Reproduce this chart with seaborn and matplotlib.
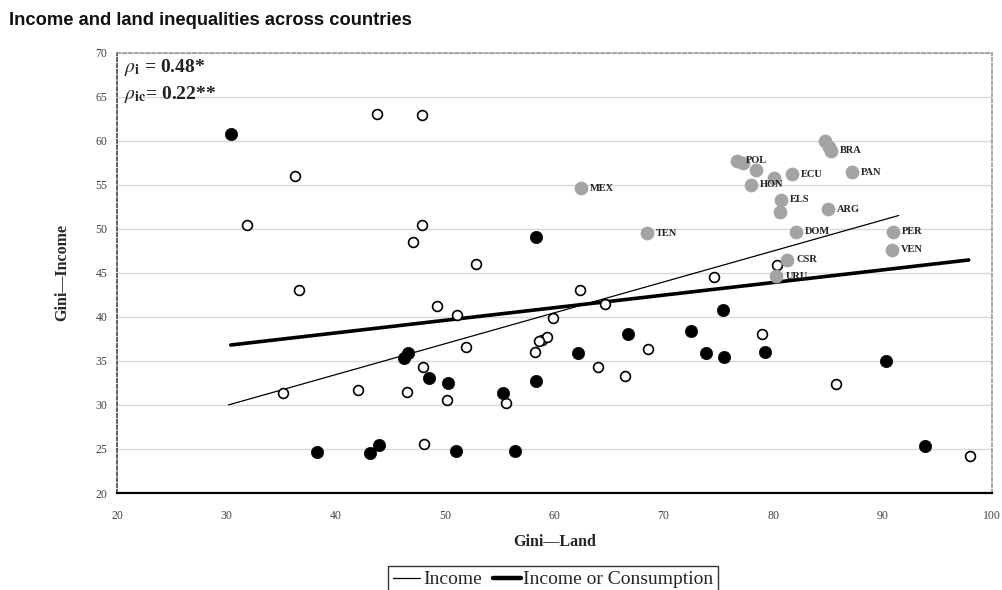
import matplotlib
matplotlib.use("Agg")
import matplotlib.pyplot as plt
import seaborn as sns
import pandas as pd
from matplotlib.lines import Line2D

# ---------------- data ----------------
income_x = [43.8, 47.9, 36.3, 31.9, 47.9, 47.1, 52.8, 36.65, 62.3, 74.6, 80.4,
            49.3, 51.1, 64.6, 59.9, 58.9, 59.3, 58.6, 58.2, 51.9, 68.6, 79.0,
            48.0, 64.0, 66.5, 35.2, 42.0, 46.5, 50.2, 55.6, 85.8, 48.1, 98.0]
income_y = [63.0, 62.9, 56.0, 50.4, 50.4, 48.45, 46.0, 43.0, 43.0, 44.5, 45.9,
            41.2, 40.2, 41.5, 39.9, 37.4, 37.7, 37.2, 36.0, 36.6, 36.3, 38.05,
            34.3, 34.3, 33.3, 31.4, 31.7, 31.5, 30.6, 30.2, 32.4, 25.6, 24.2]

cons_x = [30.4, 58.3, 75.4, 66.7, 72.5, 62.2, 73.9, 75.5, 46.65, 46.26, 48.5,
          50.3, 55.3, 58.3, 79.3, 90.3, 38.3, 43.1, 44.0, 51.0, 56.4, 93.9]
cons_y = [60.8, 49.1, 40.8, 38.0, 38.4, 35.9, 35.9, 35.4, 35.86, 35.29, 33.0,
          32.45, 31.3, 32.7, 36.0, 35.0, 24.7, 24.5, 25.4, 24.8, 24.8, 25.3]

latam_x = [62.4, 76.7, 77.3, 78.4, 84.8, 85.1, 85.3, 81.7, 80.1, 87.2, 78.0,
           80.75, 80.6, 85.0, 68.45, 82.1, 91.0, 90.9, 81.3, 80.3]
latam_y = [54.6, 57.7, 57.5, 56.7, 59.9, 59.3, 58.85, 56.2, 55.8, 56.4, 55.0,
           53.3, 51.9, 52.2, 49.5, 49.65, 49.65, 47.6, 46.45, 44.6]
latam_labels = ["MEX", "POL", "", "", "", "", "BRA", "ECU", "", "PAN", "HON",
                "ELS", "", "ARG", "TEN", "DOM", "PER", "VEN", "CSR", "URU"]

# fitted lines (endpoints)
fit_income_x = [30.2, 91.5]
fit_income_y = [30.0, 51.5]
fit_cons_x = [30.4, 97.9]
fit_cons_y = [36.8, 46.45]

x_ticks = [20, 30, 40, 50, 60, 70, 80, 90, 100]
y_ticks = [20, 25, 30, 35, 40, 45, 50, 55, 60, 65, 70]

title = "Income and land inequalities across countries"
x_label = "Gini\u2014Land"
y_label = "Gini\u2014Income"
legend_labels = ["Income", "Income or Consumption"]
rho_texts = [r"$\rho_{\mathbf{i}}$ = 0.48*", r"$\rho_{\mathbf{ic}}$= 0.22**"]

# ---------------- style ----------------
sns.set_style("white")
plt.rcParams["font.family"] = ["Liberation Serif", "DejaVu Serif"]
plt.rcParams["mathtext.fontset"] = "stix"

fig = plt.figure(figsize=(10.03, 5.9), dpi=100)
ax = fig.add_axes([0.1167, 0.1644, 0.872, 0.7466])

df_inc = pd.DataFrame({"x": income_x, "y": income_y})
df_con = pd.DataFrame({"x": cons_x, "y": cons_y})
df_lat = pd.DataFrame({"x": latam_x, "y": latam_y, "lab": latam_labels})

ax.set_axisbelow(True)
ax.yaxis.grid(True, color="#d9d9d9", linewidth=1.0)
ax.xaxis.grid(False)

sns.lineplot(x=fit_income_x, y=fit_income_y, ax=ax, color="black",
             linewidth=0.9, zorder=2)
sns.lineplot(x=fit_cons_x, y=fit_cons_y, ax=ax, color="black",
             linewidth=2.6, zorder=2)

sns.scatterplot(data=df_inc, x="x", y="y", ax=ax, s=50, facecolor="white",
                edgecolor="black", linewidth=1.2, zorder=3)
sns.scatterplot(data=df_con, x="x", y="y", ax=ax, s=78, color="black",
                edgecolor="black", linewidth=0.5, zorder=3)
sns.scatterplot(data=df_lat, x="x", y="y", ax=ax, s=88, color="#a3a3a3",
                edgecolor="#a3a3a3", linewidth=0.5, zorder=3)

for _, r in df_lat.iterrows():
    if r["lab"]:
        ax.annotate(r["lab"], (r["x"], r["y"]), xytext=(6.5, 0),
                    textcoords="offset points", ha="left", va="center",
                    fontsize=7.5, fontweight="bold", color="#222222")

ax.set_xlim(20, 100)
ax.set_ylim(20, 70)
ax.set_xticks(x_ticks)
ax.set_yticks(y_ticks)
ax.tick_params(axis="both", labelsize=8.5, colors="#444444", length=3,
               width=0.8, direction="out", pad=4)
ax.tick_params(axis="x", pad=9)

for side in ["left", "top", "right"]:
    ax.spines[side].set_linestyle((0, (2, 1.5)))
    ax.spines[side].set_linewidth(1.2)
ax.spines["left"].set_color("#444444")
ax.spines["top"].set_color("#999999")
ax.spines["right"].set_color("#999999")
ax.spines["bottom"].set_color("black")
ax.spines["bottom"].set_linewidth(1.6)

ax.set_xlabel(x_label, fontsize=11.5, fontweight="bold", labelpad=9)
ax.set_ylabel(y_label, fontsize=11.5, fontweight="bold", labelpad=18)

ax.text(0.008, 0.965, rho_texts[0], transform=ax.transAxes, fontsize=14,
        fontweight="bold", color="#222222", va="center", ha="left")
ax.text(0.008, 0.905, rho_texts[1], transform=ax.transAxes, fontsize=14,
        fontweight="bold", color="#222222", va="center", ha="left")

fig.text(0.009, 0.966, title, fontsize=13.2, fontweight="bold",
         family=["Liberation Sans", "DejaVu Sans"], color="#111111",
         va="center", ha="left")

handles = [Line2D([0], [0], color="black", linewidth=0.9),
           Line2D([0], [0], color="black", linewidth=3.2)]
leg = fig.legend(handles, legend_labels, loc="upper center",
                 bbox_to_anchor=(0.5515, 0.042), ncol=2, frameon=True,
                 fancybox=False, edgecolor="black", fontsize=14,
                 handlelength=1.4, handletextpad=0.15, columnspacing=0.6,
                 borderpad=0.25, borderaxespad=0)
leg.get_frame().set_linewidth(1.0)
leg.set_bbox_to_anchor((0.5515, 1 - 566 / 590), transform=fig.transFigure)

fig.savefig("out.png", dpi=100)
